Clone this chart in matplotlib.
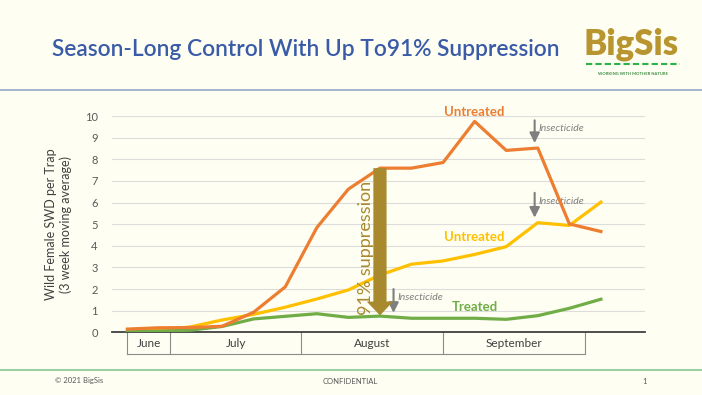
import matplotlib.pyplot as plt
import numpy as np

# weekly points, 3 week moving average
untreated_a = [0.15, 0.21, 0.22, 0.28, 0.93, 2.1, 4.84, 6.62, 7.59, 7.59, 7.85, 9.75, 8.41, 8.52, 5.01, 4.66]
untreated_b = [0.06, 0.1, 0.25, 0.57, 0.83, 1.16, 1.54, 1.96, 2.65, 3.15, 3.3, 3.6, 3.96, 5.07, 4.94, 6.02]
treated = [0.05, 0.05, 0.1, 0.27, 0.62, 0.74, 0.86, 0.69, 0.75, 0.65, 0.65, 0.65, 0.6, 0.77, 1.11, 1.53]
months = ["June", "July", "August", "September"]
month_edges = [0, 1.36, 5.5, 10.0, 14.5]

bg = "#FEFEF2"
orange = "#ED7D31"
yellow = "#FFC000"
green = "#70AD47"
gold = "#A8892E"
grey = "#7F7F7F"

plt.rcParams['font.family'] = ['Lato', 'DejaVu Sans']

fig = plt.figure(figsize=(7.02, 3.95), dpi=100, facecolor=bg)
ax = fig.add_axes([0.159, 0.1587, 0.76, 0.5476], facecolor=bg)

x = np.arange(len(untreated_a))
ax.plot(x, untreated_b, color=yellow, lw=2.3, zorder=3)
ax.plot(x, treated, color=green, lw=2.3, zorder=3)
ax.plot(x, untreated_a, color=orange, lw=2.3, zorder=4)

ax.set_xlim(-0.5, 16.4)
ax.set_ylim(0, 10)
ax.set_yticks(range(0, 11))
ax.yaxis.grid(True, color="#DCDCDC", lw=0.8)
ax.set_axisbelow(True)
ax.set_xticks([])
for s in ["top", "right", "left"]:
    ax.spines[s].set_visible(False)
ax.spines["bottom"].set_color("#404040")
ax.spines["bottom"].set_linewidth(1.3)
ax.tick_params(axis='y', length=0, labelsize=8, labelcolor="#595959", pad=10)
ax.set_ylabel("Wild Female SWD per Trap\n(3 week moving average)", fontsize=9, color="#404040",
              labelpad=9, linespacing=1.25)

# month table under the axis
tb = -1.0
ax.plot([month_edges[0], month_edges[-1]], [tb, tb], color="#8C8C8C", lw=0.8, clip_on=False)
for e in month_edges:
    ax.plot([e, e], [0, tb], color="#8C8C8C", lw=0.8, clip_on=False)
for i, m in enumerate(months):
    ax.text((month_edges[i] + month_edges[i + 1]) / 2, tb / 2, m, ha='center', va='center',
            fontsize=8.5, color="#404040")

# 91% suppression arrow
ax.annotate("", xy=(8, 0.78), xytext=(8, 7.59),
            arrowprops=dict(arrowstyle="simple,head_width=1.9,head_length=1.0,tail_width=0.95",
                            color=gold, lw=0, shrinkA=0, shrinkB=0), zorder=5)
ax.text(7.55, 3.9, "91% suppression", rotation=90, ha='center', va='center', fontsize=13, color=gold)

# insecticide marks
for xi, y0, y1, ty in [(8.43, 2.0, 0.9, 1.6), (12.9, 9.8, 8.75, 9.4), (12.9, 6.45, 5.3, 6.05)]:
    ax.annotate("", xy=(xi, y1), xytext=(xi, y0),
                arrowprops=dict(arrowstyle="-|>,head_width=0.3,head_length=0.6", color=grey, lw=1.5,
                                shrinkA=0, shrinkB=0))
    ax.text(xi + 0.12, ty, "Insecticide", fontsize=7.5, style='italic', color=grey, va='center', ha='left')

ax.text(11.0, 10.2, "Untreated", color=orange, fontsize=9.5, fontweight='bold', ha='center', va='center', clip_on=False)
ax.text(11.0, 4.4, "Untreated", color=yellow, fontsize=9.5, fontweight='bold', ha='center', va='center')
ax.text(11.0, 1.17, "Treated", color=green, fontsize=9.5, fontweight='bold', ha='center', va='center')

# header
fig.text(306 / 702, 1 - 50 / 395, "Season-Long Control With Up To91% Suppression", ha='center', va='center',
         fontsize=16.4, color="#3A5BA8", fontweight='semibold')
fig.add_artist(plt.Line2D([0, 1], [1 - 90 / 395] * 2, color="#94A8C8", lw=1.2))

# logo
fig.text(631 / 702, 1 - 44 / 395, "BigSis", ha='center', va='center', fontsize=25, fontweight='heavy', color="#B8952F")
fig.add_artist(plt.Line2D([586 / 702, 680 / 702], [1 - 64 / 395] * 2, color="#2DB24A", lw=1.5, ls=(0, (3, 1.5))))
fig.text(633 / 702, 1 - 74 / 395, "WORKING WITH MOTHER NATURE", ha='center', va='center', fontsize=3,
         fontweight='bold', color="#3A8A3E")

# footer
fig.add_artist(plt.Line2D([0, 1], [1 - 369.5 / 395] * 2, color="#9DD0A2", lw=1.5))
fig.text(55 / 702, 1 - 381 / 395, "© 2021 BigSis", fontsize=5.5, color="#595959", va='center')
fig.text(350 / 702, 1 - 381 / 395, "CONFIDENTIAL", fontsize=5.5, color="#595959", va='center', ha='center')
fig.text(645 / 702, 1 - 381 / 395, "1", fontsize=5.5, color="#595959", va='center', ha='center')

fig.savefig("out.png", dpi=100, facecolor=bg)
